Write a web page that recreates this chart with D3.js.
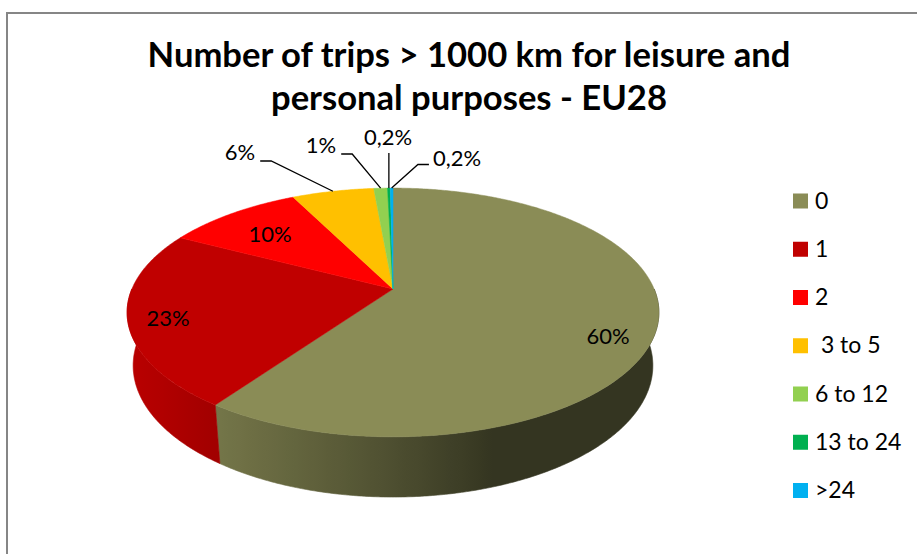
<!DOCTYPE html>
<html>
<head>
<meta charset="utf-8">
<script src="https://cdn.jsdelivr.net/npm/d3@7"></script>
<style>
  html, body { margin: 0; padding: 0; background: #ffffff; }
  svg { display: block; font-family: Lato, "Open Sans", sans-serif; }
</style>
</head>
<body>
<svg id="chart" width="917" height="554"></svg>
<script>
// Data: share of residents by number of trips > 1000 km (EU28), in percent
const categories = ["0", "1", "2", " 3 to 5", "6 to 12", "13 to 24", ">24"];
const shares = [60, 23, 10, 6, 1, 0.2, 0.2];
const colors = ["#8a8c56", "#c00000", "#ff0000", "#ffc000", "#92d050", "#00b050", "#00b0f0"];
const titleLines = ["Number of trips > 1000 km for leisure and", "personal purposes - EU28"];

const svg = d3.select("#chart");
const defs = svg.append("defs");

// Chart frame
svg.append("rect")
  .attr("x", 7).attr("y", 13).attr("width", 1200).attr("height", 1200)
  .attr("fill", "#ffffff").attr("stroke", "#868686").attr("stroke-width", 2);

// Title, two centred bold lines
const titleG = svg.append("g").attr("font-weight", 700).attr("fill", "#000");
const t1 = titleG.append("text").attr("x", 469).attr("y", 67).attr("text-anchor", "middle")
  .attr("font-size", 30).text(titleLines[0]);
const fitSize = 30 * 643 / t1.node().getComputedTextLength();
t1.attr("font-size", fitSize);
titleG.append("text").attr("x", 469).attr("y", 110).attr("text-anchor", "middle")
  .attr("font-size", fitSize).text(titleLines[1]);

// Perspective view of a tilted disc: angle a (clockwise from the back), radius r (0..1),
// drop y (downwards, in radius units)
const view = { cx: 393, cy: 289, f: 1230, dist: 4.71, sinT: 0.4594, thick: 0.2307 };
view.cosT = Math.sqrt(1 - view.sinT * view.sinT);
function project(a, r, y) {
  const X = r * Math.sin(a), Z = -r * Math.cos(a);
  const yc = y * view.cosT + Z * view.sinT;
  const d = view.dist + y * view.sinT - Z * view.cosT;
  return [view.cx + view.f * X / d, view.cy + view.f * yc / d];
}
function arcAngles(a0, a1) {
  const step = Math.PI / 360;
  const n = Math.max(2, Math.ceil((a1 - a0) / step));
  return d3.range(n + 1).map(i => a0 + (a1 - a0) * i / n);
}

const pie = d3.pie().sort(null).value(d => d.value).startAngle(0).endAngle(2 * Math.PI);
const data = categories.map((c, i) => ({ cat: c, value: shares[i], color: colors[i], i }));
const arcs = pie(data);
const line = d3.line();

// Wall lighting: light comes from the left, slightly from the front
function shade(a) {
  return 0.38 + Math.max(0, -0.55 * Math.sin(a) - 0.18 * Math.cos(a));
}
function darker(col, k) {
  const c = d3.rgb(col);
  return d3.rgb(c.r * k, c.g * k, c.b * k).formatHex();
}

// Outer walls (front half only)
const wallG = svg.append("g");
arcs.forEach((p, idx) => {
  const lo = Math.max(p.startAngle, Math.PI / 2);
  const hi = Math.min(p.endAngle, 3 * Math.PI / 2);
  if (hi <= lo) return;
  const angs = arcAngles(lo, hi);
  const top = angs.map(a => project(a, 1, 0));
  const bot = angs.slice().reverse().map(a => project(a, 1, view.thick));
  const xs = top.map(q => q[0]);
  const x1 = d3.min(xs), x2 = d3.max(xs);
  const gid = "wall" + idx;
  const grad = defs.append("linearGradient").attr("id", gid)
    .attr("gradientUnits", "userSpaceOnUse")
    .attr("x1", x1).attr("x2", x2).attr("y1", 0).attr("y2", 0);
  const stops = angs.filter((a, k) => k % 4 === 0 || k === angs.length - 1)
    .map(a => ({ x: project(a, 1, 0)[0], k: shade(a) }))
    .sort((u, v) => u.x - v.x);
  stops.forEach(s => grad.append("stop")
    .attr("offset", x2 > x1 ? (s.x - x1) / (x2 - x1) : 0)
    .attr("stop-color", darker(p.data.color, s.k)));
  wallG.append("path")
    .attr("d", line(top.concat(bot)) + "Z")
    .attr("fill", `url(#${gid})`)
    .attr("stroke", `url(#${gid})`).attr("stroke-width", 0.6);
});

// Top faces
const topG = svg.append("g");
arcs.forEach(p => {
  const pts = [project(0, 0, 0)].concat(arcAngles(p.startAngle, p.endAngle).map(a => project(a, 1, 0)));
  topG.append("path")
    .attr("d", line(pts) + "Z")
    .attr("fill", p.data.color)
    .attr("stroke", p.data.color).attr("stroke-width", 0.5);
});

// Percentage labels (comma decimal, one decimal below 1 %)
const loc = d3.formatLocale({ decimal: ",", thousands: ".", grouping: [3], currency: ["", "€"] });
function pct(v) {
  return (v < 1 ? loc.format(".1f")(v) : loc.format(".0f")(v)) + "%";
}

const labelSize = 22;
// Label placement: inside labels centred on the top face, outside labels with leader lines
const insideLabels = { 0: [608, 344], 1: [168, 326], 2: [270, 242] };
const outsideLabels = {
  3: { x: 240, y: 160, side: "left" },
  4: { x: 321, y: 153, side: "left" },
  5: { x: 388, y: 145, side: "up" },
  6: { x: 457, y: 166, side: "right" }
};

const labG = svg.append("g").attr("font-size", labelSize).attr("fill", "#000");
arcs.forEach((p, idx) => {
  const txt = pct(p.value);
  if (insideLabels[idx]) {
    const [x, y] = insideLabels[idx];
    labG.append("text").attr("x", x).attr("y", y).attr("text-anchor", "middle").text(txt);
    return;
  }
  const o = outsideLabels[idx];
  const t = labG.append("text").attr("x", o.x).attr("y", o.y).attr("text-anchor", "middle").text(txt);
  const w = t.node().getComputedTextLength();
  const mid = (p.startAngle + p.endAngle) / 2;
  const rim = project(mid, 1, 0);
  let pts;
  if (o.side === "left") {
    const s = [o.x + w / 2 + 5, o.y + 1];
    pts = [s, [s[0] + 11, s[1]], rim];
  } else if (o.side === "right") {
    const s = [o.x - w / 2 - 4, o.y - 1.5];
    pts = [s, [s[0] - 11, s[1]], rim];
  } else {
    pts = [[rim[0], o.y + 8], rim];
  }
  labG.append("path").attr("d", line(pts)).attr("fill", "none")
    .attr("stroke", "#000").attr("stroke-width", 1.3);
});

// Legend
const legendY = d3.scalePoint().domain(categories).range([193.5, 483]);
const legG = svg.append("g").attr("font-size", 23);
data.forEach(d => {
  const y = legendY(d.cat);
  legG.append("rect").attr("x", 793).attr("y", y).attr("width", 15).attr("height", 15)
    .attr("fill", d.color);
  legG.append("text").attr("x", 815).attr("y", y + 15)
    .attr("xml:space", "preserve").style("white-space", "pre")
    .text(d.cat);
});
</script>
</body>
</html>
